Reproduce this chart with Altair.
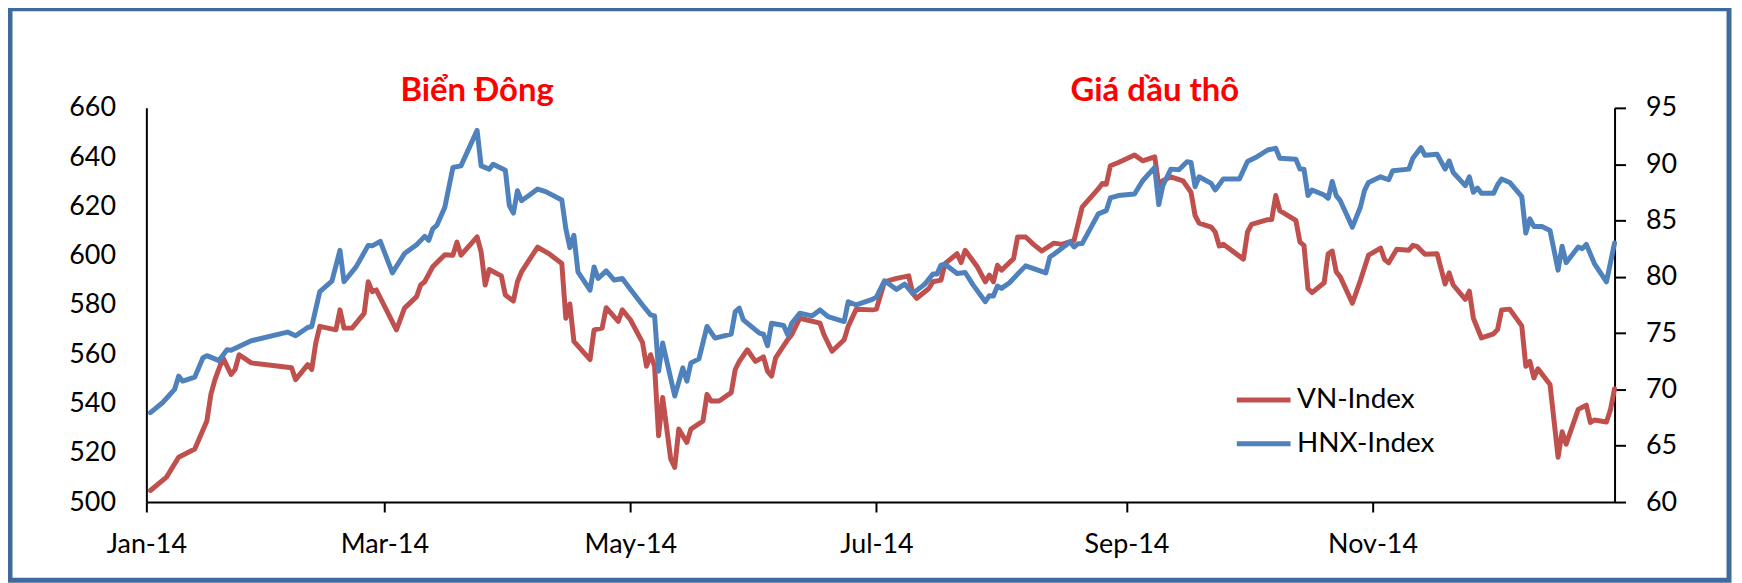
import altair as alt
import pandas as pd

# ---------------- data ----------------
vn_dates = [
    "01-02", "01-06", "01-09", "01-13", "01-16", "01-17", "01-18", "01-20", "01-22", "01-23",
    "01-24", "01-27", "02-06", "02-07", "02-10", "02-11", "02-12", "02-13", "02-17", "02-18",
    "02-19", "02-21", "02-24", "02-25", "02-26", "02-27", "03-04", "03-06", "03-09", "03-10",
    "03-11", "03-13", "03-16", "03-18", "03-19", "03-20", "03-24", "03-25", "03-26", "03-27",
    "03-30", "03-31", "04-02", "04-03", "04-04", "04-08", "04-11", "04-14", "04-15", "04-16",
    "04-17", "04-21", "04-22", "04-24", "04-25", "04-28", "04-29", "05-01", "05-04", "05-05",
    "05-06", "05-07", "05-08", "05-09", "05-11", "05-12", "05-13", "05-15", "05-16", "05-19",
    "05-20", "05-21", "05-23", "05-26", "05-27", "05-28", "05-30", "06-01", "06-03", "06-04",
    "06-05", "06-06", "06-09", "06-10", "06-12", "06-17", "06-18", "06-20", "06-23", "06-24",
    "06-26", "06-30", "07-01", "07-03", "07-06", "07-09", "07-10", "07-11", "07-14", "07-15",
    "07-17", "07-18", "07-21", "07-22", "07-23", "07-26", "07-28", "07-29", "07-30", "07-31",
    "08-01", "08-04", "08-05", "08-07", "08-09", "08-11", "08-14", "08-16", "08-19", "08-21",
    "08-25", "08-26", "08-27", "08-28", "08-30", "09-03", "09-05", "09-08", "09-09", "09-10",
    "09-12", "09-15", "09-17", "09-18", "09-19", "09-22", "09-23", "09-24", "09-25", "09-30",
    "10-01", "10-02", "10-06", "10-07", "10-08", "10-09", "10-13", "10-14", "10-15", "10-16",
    "10-17", "10-20", "10-21", "10-22", "10-23", "10-24", "10-27", "10-29", "10-31", "11-03",
    "11-04", "11-05", "11-07", "11-10", "11-11", "11-12", "11-14", "11-17", "11-19", "11-20",
    "11-21", "11-24", "11-25", "11-26", "11-28", "12-01", "12-02", "12-03", "12-05", "12-08",
    "12-09", "12-10", "12-11", "12-12", "12-15", "12-17", "12-18", "12-19", "12-22", "12-24",
    "12-25", "12-26", "12-29", "12-30", "12-31",
]
vn_values = [
    504.7, 510.1, 518.2, 521.5, 532.9, 543.7, 549.7, 558.5, 551.8, 553.8,
    559.8, 556.5, 554.5, 549.7, 555.8, 553.8, 564.5, 571.3, 569.9, 578.0,
    570.6, 570.6, 576.6, 589.4, 585.4, 586.1, 569.9, 578.7, 583.4, 588.1,
    589.4, 595.5, 600.4, 600.2, 605.5, 600.2, 607.6, 601.5, 588.1, 594.4,
    591.8, 584.0, 581.6, 589.4, 593.4, 603.5, 600.6, 596.8, 574.6, 580.4,
    565.2, 557.8, 569.9, 570.6, 578.9, 573.3, 578.0, 574.0, 564.8, 555.1,
    559.8, 555.1, 526.9, 542.4, 517.5, 514.1, 529.6, 524.2, 529.6, 532.9,
    543.7, 541.0, 541.0, 544.4, 553.8, 557.1, 561.8, 557.1, 558.9, 553.1,
    551.1, 558.5, 565.9, 567.9, 574.6, 572.6, 567.9, 561.2, 565.9, 571.3,
    578.3, 578.0, 578.3, 589.4, 590.8, 591.8, 584.7, 582.7, 586.7, 589.4,
    590.1, 596.8, 600.8, 597.2, 602.2, 595.5, 589.4, 592.1, 589.4, 596.1,
    594.1, 598.8, 607.6, 607.6, 604.5, 601.9, 605.1, 604.6, 606.2, 619.7,
    627.1, 629.3, 629.0, 636.5, 637.8, 640.9, 638.5, 640.1, 628.4, 630.4,
    632.0, 630.4, 625.7, 616.3, 613.2, 611.6, 609.6, 603.9, 604.6, 598.6,
    609.6, 612.7, 614.6, 614.7, 624.4, 618.3, 614.3, 605.5, 604.2, 586.7,
    585.0, 589.0, 600.8, 601.9, 593.4, 591.4, 580.7, 590.0, 600.2, 603.1,
    598.4, 597.1, 602.6, 602.2, 604.2, 603.8, 600.6, 600.8, 588.5, 593.0,
    588.1, 582.3, 585.6, 574.6, 566.6, 568.3, 570.0, 578.0, 578.3, 571.5,
    555.1, 557.1, 550.4, 554.1, 547.7, 518.2, 528.5, 523.5, 537.6, 539.3,
    532.3, 533.3, 532.5, 537.6, 546.0,
]

hnx_dates = [
    "01-02", "01-05", "01-08", "01-09", "01-10", "01-13", "01-15", "01-16", "01-19", "01-21",
    "01-22", "01-27", "02-05", "02-07", "02-10", "02-11", "02-13", "02-16", "02-18", "02-19",
    "02-22", "02-25", "02-26", "02-28", "03-03", "03-06", "03-09", "03-11", "03-12", "03-13",
    "03-14", "03-16", "03-18", "03-20", "03-24", "03-25", "03-27", "03-28", "03-31", "04-01",
    "04-02", "04-03", "04-04", "04-06", "04-08", "04-10", "04-14", "04-15", "04-16", "04-17",
    "04-18", "04-21", "04-22", "04-23", "04-25", "04-27", "04-29", "05-01", "05-04", "05-06",
    "05-07", "05-08", "05-09", "05-12", "05-14", "05-15", "05-16", "05-18", "05-20", "05-22",
    "05-26", "05-27", "05-28", "05-29", "06-02", "06-03", "06-04", "06-05", "06-08", "06-09",
    "06-10", "06-12", "06-15", "06-17", "06-19", "06-23", "06-24", "06-26", "06-30", "07-01",
    "07-03", "07-06", "07-08", "07-10", "07-13", "07-15", "07-16", "07-17", "07-18", "07-21",
    "07-23", "07-25", "07-28", "07-29", "07-30", "07-31", "08-01", "08-03", "08-05", "08-07",
    "08-12", "08-13", "08-14", "08-18", "08-19", "08-20", "08-21", "08-23", "08-25", "08-27",
    "08-28", "08-30", "09-03", "09-05", "09-08", "09-09", "09-10", "09-12", "09-14", "09-16",
    "09-17", "09-18", "09-19", "09-22", "09-23", "09-25", "09-29", "10-01", "10-03", "10-06",
    "10-08", "10-09", "10-13", "10-14", "10-15", "10-16", "10-17", "10-20", "10-21", "10-22",
    "10-23", "10-24", "10-27", "10-29", "10-30", "10-31", "11-03", "11-05", "11-06", "11-10",
    "11-11", "11-13", "11-14", "11-17", "11-19", "11-20", "11-21", "11-24", "11-25", "11-26",
    "11-27", "11-28", "12-01", "12-02", "12-03", "12-05", "12-08", "12-09", "12-10", "12-11",
    "12-13", "12-15", "12-17", "12-18", "12-19", "12-22", "12-23", "12-24", "12-26", "12-29",
    "12-31",
]
hnx_values = [
    67.94, 68.82, 70.00, 71.18, 70.74, 71.09, 72.79, 73.00, 72.56, 73.53,
    73.47, 74.32, 75.09, 74.76, 75.50, 75.59, 78.68, 79.62, 82.35, 79.56,
    80.88, 82.79, 82.75, 83.15, 80.35, 82.06, 82.85, 83.59, 83.24, 84.26,
    84.56, 86.18, 89.71, 89.85, 93.00, 89.85, 89.56, 90.00, 89.47, 86.32,
    85.65, 87.65, 86.76, 87.26, 87.79, 87.56, 86.82, 84.26, 82.59, 83.68,
    80.44, 78.82, 80.88, 79.85, 80.53, 79.71, 79.85, 78.90, 77.50, 76.62,
    76.53, 71.62, 74.12, 69.41, 71.91, 70.74, 72.35, 72.71, 75.59, 74.56,
    74.91, 76.91, 77.21, 76.18, 75.00, 74.90, 73.88, 75.88, 75.68, 74.85,
    75.88, 76.76, 76.53, 77.06, 76.47, 76.03, 77.79, 77.50, 78.00, 78.20,
    79.65, 78.88, 79.35, 78.53, 79.35, 80.24, 80.24, 81.03, 81.12, 80.29,
    80.38, 79.26, 77.79, 78.32, 78.30, 79.18, 78.97, 79.47, 80.24, 80.97,
    80.35, 81.76, 82.00, 83.09, 82.65, 82.94, 82.95, 84.26, 85.59, 85.88,
    87.00, 87.21, 87.35, 88.53, 89.71, 86.41, 88.09, 89.56, 89.50, 90.21,
    90.15, 88.00, 88.88, 88.29, 87.71, 88.68, 88.68, 90.24, 90.59, 91.26,
    91.41, 90.53, 90.44, 89.56, 89.56, 87.21, 87.71, 87.26, 86.97, 88.47,
    87.21, 86.76, 84.41, 86.20, 87.65, 88.38, 88.88, 88.62, 89.41, 89.56,
    90.53, 91.47, 90.79, 90.88, 89.56, 90.29, 89.26, 88.09, 88.88, 87.50,
    87.88, 87.41, 87.41, 88.18, 88.68, 88.38, 87.12, 83.88, 85.15, 84.47,
    84.47, 84.12, 80.59, 82.71, 81.26, 82.65, 82.50, 82.88, 81.18, 79.56,
    83.00,
]

series_names = ["VN-Index", "HNX-Index"]
series_colors = ["#C0504D", "#4F81BD"]

event_dates = ["2014-03-24", "2014-09-08"]
event_labels = ["Biển Đông", "Giá dầu thô"]

x_tick_months = [1, 3, 5, 7, 9, 11]
left_ticks = [500, 520, 540, 560, 580, 600, 620, 640, 660]
right_ticks = [60, 65, 70, 75, 80, 85, 90, 95]

# ---------------- tables ----------------
vn_df = pd.DataFrame({"date": ["2014-" + d for d in vn_dates], "value": vn_values,
                      "series": series_names[0]})
hnx_df = pd.DataFrame({"date": ["2014-" + d for d in hnx_dates], "value": hnx_values,
                       "series": series_names[1]})
ann_df = pd.DataFrame({"date": event_dates, "label": event_labels})

FONT = "Lato"
FS = 27

x_enc = alt.X(
    "date:T",
    scale=alt.Scale(domain=[alt.DateTime(year=2014, month=1, date=1),
                            alt.DateTime(year=2014, month=12, date=31)], nice=False),
    axis=alt.Axis(
        values=[alt.DateTime(year=2014, month=m, date=1) for m in x_tick_months],
        format="%b-%y", title=None, grid=False,
        tickSize=10, tickWidth=2, tickColor="black",
        domainColor="black", domainWidth=2,
        labelFont=FONT, labelFontSize=FS, labelColor="black",
        labelPadding=20, labelFlush=False, labelOverlap=False,
    ),
)

color_enc = alt.Color(
    "series:N",
    scale=alt.Scale(domain=series_names, range=series_colors),
    legend=alt.Legend(
        orient="none", legendX=1093, legendY=264, title=None,
        symbolType="stroke", symbolSize=2916, symbolStrokeWidth=5,
        labelFont=FONT, labelFontSize=28, labelColor="black",
        labelOffset=4, rowPadding=-5, padding=0,
    ),
)

line_kw = dict(strokeWidth=5, strokeJoin="round", strokeCap="round")

vn_line = alt.Chart(vn_df).mark_line(**line_kw).encode(
    x=x_enc,
    y=alt.Y("value:Q",
            scale=alt.Scale(domain=[500, 660], nice=False, zero=False),
            axis=alt.Axis(orient="left", values=left_ticks, title=None, grid=False,
                          ticks=False, tickSize=0, domainColor="black", domainWidth=2,
                          labelFont=FONT, labelFontSize=FS, labelColor="black",
                          labelPadding=31)),
    color=color_enc,
)

hnx_line = alt.Chart(hnx_df).mark_line(**line_kw).encode(
    x=x_enc,
    y=alt.Y("value:Q",
            scale=alt.Scale(domain=[60, 95], nice=False, zero=False),
            axis=alt.Axis(orient="right", values=right_ticks, title=None, grid=False,
                          tickSize=11, tickWidth=2, tickColor="black",
                          domainColor="black", domainWidth=2,
                          labelFont=FONT, labelFontSize=FS, labelColor="black",
                          labelPadding=20)),
    color=color_enc,
)

annotations = alt.Chart(ann_df).mark_text(
    font=FONT, fontSize=33, fontWeight="bold", color="#FF0000",
    align="center", baseline="alphabetic",
).encode(x=x_enc, y=alt.value(-7), text="label:N")

frame = alt.Chart(pd.DataFrame({"k": [0]})).mark_rect(
    filled=False, stroke="#3E6A9E", strokeWidth=5,
).encode(x=alt.value(-137), x2=alt.value(1590), y=alt.value(-99.5), y2=alt.value(474.5))

chart = (
    alt.layer(frame, vn_line, hnx_line, annotations)
    .resolve_scale(y="independent")
    .properties(
        width=1475, height=396,
        padding={"left": 139, "top": 99, "right": 120, "bottom": 80},
        autosize=alt.AutoSizeParams(type="none"),
        background="white",
    )
    .configure_view(stroke=None)
)

chart.save("out.html", embed_options={"renderer": "svg", "actions": False})
